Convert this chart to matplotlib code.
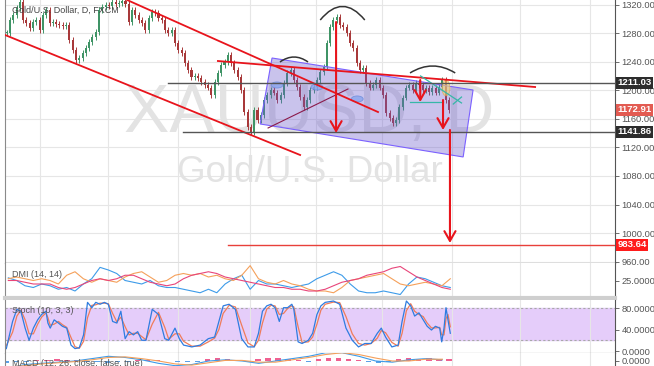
import numpy as np
import matplotlib.pyplot as plt
from matplotlib.patches import Polygon, Ellipse, PathPatch
from matplotlib.path import Path
from matplotlib.transforms import blended_transform_factory

plt.rcParams['font.family'] = ['Liberation Sans', 'DejaVu Sans']

# daily closes (candle index 0..134)
closes = [1281, 1299, 1306, 1316, 1324, 1299, 1295, 1288, 1296, 1299,
          1285, 1306, 1313, 1295, 1296, 1293, 1292, 1290, 1292, 1271,
          1257, 1243, 1246, 1253, 1260, 1268, 1275, 1282, 1313, 1317,
          1320, 1318, 1324, 1321, 1323, 1326, 1321, 1296, 1313, 1306,
          1299, 1295, 1285, 1302, 1310, 1309, 1302, 1299, 1285, 1281,
          1285, 1267, 1257, 1253, 1239, 1229, 1219, 1220, 1218, 1212,
          1208, 1204, 1194, 1212, 1225, 1236, 1240, 1250, 1239, 1229,
          1219, 1201, 1170, 1149, 1142, 1173, 1159, 1166, 1187, 1194,
          1201, 1197, 1187, 1194, 1211, 1225, 1229, 1215, 1205, 1191,
          1177, 1187, 1201, 1205, 1215, 1226, 1233, 1267, 1289, 1299,
          1303, 1292, 1289, 1281, 1267, 1260, 1239, 1229, 1232, 1211,
          1204, 1208, 1215, 1204, 1194, 1168, 1161, 1154, 1159, 1177,
          1190, 1204, 1208, 1201, 1211, 1208, 1201, 1204, 1198, 1204,
          1197, 1205, 1215, 1187, 1173]

vgrid = [10.1, 30.7, 51.9, 73.7, 93.7, 113.7, 135.0, 155.6, 176.8]
price_ticks = [960, 1000, 1040, 1080, 1120, 1160, 1200, 1240, 1280, 1320]

# DMI (14, 14)
dmi_plus = [28, 25, 19, 17, 21, 19, 15, 17, 13, 21, 27, 40, 37, 33, 25, 23, 21, 25,
            19, 17, 17, 15, 13, 11, 15, 11, 21, 27, 31, 15, 25, 21, 21, 19, 17, 19,
            21, 27, 31, 35, 31, 21, 13, 11, 11, 13, 11, 9, 21, 29, 27, 23, 19, 17]
dmi_minus = [27, 29, 27, 25, 27, 25, 21, 31, 35, 27, 23, 27, 25, 23, 29, 33, 35, 29,
             23, 25, 31, 33, 31, 33, 29, 31, 27, 25, 31, 42, 27, 23, 21, 25, 21, 19,
             15, 13, 13, 11, 17, 25, 27, 29, 31, 33, 27, 21, 19, 21, 23, 21, 19, 27]
adx = [25, 25, 23, 21, 21, 21, 17, 15, 17, 21, 25, 27, 25, 27, 31, 31, 27, 23,
       21, 19, 21, 27, 31, 33, 35, 33, 29, 27, 25, 23, 21, 19, 17, 17, 15, 15,
       13, 13, 15, 19, 23, 25, 27, 31, 33, 35, 39, 41, 35, 29, 25, 21, 17, 15]

# Stoch (10, 3, 3)
stoch_days = [-0.1, 1.8, 3.1, 4.3, 5.6, 6.8, 8.1, 9.4, 10.6, 11.9,
              12.5, 13.2, 14.4, 15.7, 16.9, 18.2, 19.5, 20.7, 22.0, 23.3,
              24.5, 25.8, 27.0, 28.3, 29.6, 30.8, 32.1, 33.4, 34.6, 35.9,
              37.1, 38.4, 39.7, 40.9, 42.2, 44.1, 46.0, 47.9, 49.1, 51.0,
              52.3, 53.6, 56.1, 58.6, 61.1, 63.0, 64.3, 65.6, 67.4, 69.3,
              71.2, 73.1, 75.0, 76.3, 77.5, 78.8, 80.1, 81.3, 82.6, 83.9,
              85.1, 86.4, 87.0, 88.3, 89.5, 91.4, 92.7, 94.0, 95.2, 96.5,
              99.0, 100.9, 102.8, 104.7, 106.6, 108.5, 110.4, 112.3, 113.5, 114.8,
              116.7, 118.6, 119.8, 121.1, 122.4, 123.6, 124.9, 126.2, 127.4, 128.7,
              129.9, 131.2, 131.8, 132.5, 133.1, 133.7, 134.4]
stoch_k = [4.5, 55, 77.5, 74, 42.6, 20, 42.6, 58, 68, 74,
           52, 42.6, 58, 52, 46, 42.6, 11, 4.5, 6, 30,
           90.5, 80.6, 90.5, 87, 90.5, 87, 55, 52, 74, 23,
           36, 30, 36, 20, 20, 77.5, 68, 23, 20, 42.6,
           23, 11, 7.6, 11, 23, 26, 55, 84, 87, 77.5,
           23, 7.6, 7.6, 33, 74, 84, 87, 80.6, 55, 80.6,
           80.6, 87, 77.5, 17, 14, 20, 33, 68, 84, 90.5,
           93, 87, 42.6, 20, 7.6, 14, 14, 33, 42.6, 26,
           7.6, 11, 55, 93, 84, 65, 71, 58, 46, 39,
           46, 42.6, 17, 42.6, 80.6, 58, 33]
stoch_d = [10, 35, 65, 76, 58, 32, 32, 50, 63, 71,
           62, 48, 50, 55, 49, 44, 25, 8, 5, 18,
           62, 85, 86, 89, 89, 88, 70, 54, 63, 45,
           30, 33, 33, 27, 21, 50, 72, 44, 22, 32,
           32, 18, 9, 9, 17, 24, 40, 70, 85, 82,
           48, 15, 8, 20, 52, 78, 85, 84, 68, 70,
           79, 84, 82, 45, 16, 17, 26, 50, 76, 87,
           91, 90, 64, 32, 14, 11, 14, 24, 38, 34,
           16, 9, 33, 75, 88, 74, 68, 64, 52, 43,
           43, 44, 30, 30, 60, 68, 45]

# MACD (12, 26, close, false, true)
macd_line = [-6, -3, -2, -1, 0, 2, 4, 3, 1, -2, -4, -3, 0, 1, 0, -2, 0, 2, 4, 7, 7, 4, 0, -1, 1, 2, 1]
macd_signal = [-5, -4, -2.5, -1.5, -0.5, 1, 3, 3.5, 2, 0, -2.5, -3.5, -1.5, 0.5, 0.5, -1, -1, 1, 3, 5.5,
               7, 5.5, 2.5, 0, 0, 1.5, 1.5]
macd_hist = [-2, -1, -1, 0.5, 1, 1.5, 1, 0.5, -0.5, -1,
             -1.5, -1, -0.5, 0.5, 1, 0.8, 0.3, -0.5, -1, -0.5,
             1.5, 2.5, 2, 0.5, -0.5, 1.5, 2.5, 2.5, 2,
             0.5, -0.5, 1.5, 2.5, 2.5, 2, 0.5, -1, -1.5, -0.5,
             1.5, 2.5, 2, 2.5, 2, 1.5]

# chart drawings, in (candle index, price)
channel_lo = [(-0.5, 1277.9), (88.9, 1109.5)]
channel_hi = [(36.5, 1327.0), (112.5, 1169.8)]
neckline = [(64.0, 1241.4), (160.1, 1204.9)]
rising_line = [(79.2, 1147.4), (103.4, 1202.1)]
box = [(80.4, 1245.6), (141.3, 1200.7), (138.3, 1106.7), (76.8, 1153.0)]
circles = [(81.9, 1207.7), (94.0, 1204.9), (106.2, 1188.1)]
humps = [(82.8, 91.3, 1240.0, 1247.0), (95.0, 108.5, 1298.9, 1318.0), (122.2, 135.9, 1224.6, 1234.4)]
arrows = [(99.8, 1296.1, 1140.4), (125.3, 1214.7, 1183.9), (132.2, 1186.7, 1144.6), (134.3, 1144.6, 986.0)]
levels = [(1211.03, 48.9, '#555555', '#2d2d2d'), (1141.86, 53.4, '#555555', '#2d2d2d'),
          (983.64, 67.1, '#e8403a', '#ff1c1c')]
last_price = 1172.91
teal_lines = [[(122.2, 1183.9), (132.2, 1183.9)], [(125.4, 1220.4), (137.8, 1182.5)],
              [(135.3, 1181.0), (137.8, 1190.8)]]

W, H = 654, 366


def px_rect(x0, y0, x1, y1):
    return [x0 / W, 1 - y1 / H, (x1 - x0) / W, (y1 - y0) / H]


fig = plt.figure(figsize=(W / 100, H / 100), dpi=100)
fig.patch.set_facecolor('white')
ax = fig.add_axes(px_rect(5, 0, 615, 263))
ax_dmi = fig.add_axes(px_rect(5, 263, 615, 298), sharex=ax)
ax_st = fig.add_axes(px_rect(5, 300, 615, 353), sharex=ax)
ax_macd = fig.add_axes(px_rect(5, 353, 615, 400), sharex=ax)

lab = dict(labelsize=6.7, colors='#555555', length=3, pad=1.5, width=0.6)
for a in (ax, ax_dmi, ax_st, ax_macd):
    a.set_facecolor('white')
    a.yaxis.tick_right()
    a.tick_params(axis='y', **lab)
    a.tick_params(axis='x', length=0, labelbottom=False)
    a.set_xticks(vgrid)
    a.grid(axis='x', color='#e6e6e6', lw=0.8)
    a.set_axisbelow(True)
    a.spines['top'].set_visible(False)
    a.spines['left'].set_color('#8a8a8a')
    a.spines['right'].set_color('#555555')
    a.spines['bottom'].set_color('#555555')
ax.set_xlim(-0.5, 184.3)

# ---- price panel ----
x = np.arange(len(closes))
c = np.array(closes, dtype=float)
o = np.r_[c[0], c[:-1]]
up = c >= o
col = np.where(up, '#3f9466', '#a8393a')
ax.vlines(x, np.minimum(o, c) - 4, np.maximum(o, c) + 4, colors=col, lw=0.7, zorder=3)
ax.bar(x, np.maximum(np.abs(c - o), 0.8), bottom=np.minimum(o, c), width=0.62, color=col, zorder=3)

ax.set_ylim(957.9, 1327.0)
ax.set_yticks(price_ticks)
ax.set_yticklabels([f'{p:.2f}' for p in price_ticks])
ax.grid(axis='y', color='#e6e6e6', lw=0.8)

ax.text(91.6, 1141.8, 'XAUUSD, D', ha='center', va='baseline', fontsize=49,
        color='#e3e3e3', zorder=1)
ax.text(91.9, 1071.6, 'Gold/U.S. Dollar', ha='center', va='baseline', fontsize=26.5,
        color='#e3e3e3', zorder=1)

ax.add_patch(Polygon(box, closed=True, fc='#6a5acd', alpha=0.36, ec='none', zorder=4))
ax.add_patch(Polygon(box, closed=True, fc='none', ec='#7b61ff', lw=0.8, zorder=4))
for cx, cy in circles:
    ax.add_patch(Ellipse((cx, cy), 3.6, 8.5, fc='#8aa6ee', ec='#6b8ad8', lw=0.6, alpha=0.8, zorder=4.5))
ax.add_patch(Ellipse((133.1, 1203.5), 2.4, 22, fc='#f5d76e', ec='#e0a030', lw=0.6, alpha=0.6, zorder=4.5))

for seg in (channel_lo, channel_hi, neckline):
    (x0, y0), (x1, y1) = seg
    ax.plot([x0, x1], [y0, y1], color='#e8141c', lw=1.3, zorder=5)
ax.plot(*zip(*rising_line), color='#8b1a4a', lw=0.8, zorder=5)
for seg in teal_lines:
    ax.plot(*zip(*seg), color='#36b7a8', lw=0.9, zorder=5)

trans = blended_transform_factory(ax.transAxes, ax.transData)
for price, x0, lc, bc in levels:
    ax.plot([x0, 184.3], [price, price], color=lc, lw=1.0, zorder=5)
    ax.text(1.004, price, f'{price:.2f}', transform=trans, ha='left', va='center', fontsize=6.8,
            color='white', weight='bold', clip_on=False, zorder=10,
            bbox=dict(fc=bc, ec='none', pad=1.1))
ax.text(1.004, last_price, f'{last_price:.2f}', transform=trans, ha='left', va='center', fontsize=6.8,
        color='white', weight='bold', clip_on=False, zorder=10, bbox=dict(fc='#e35b52', ec='none', pad=1.1))

for x0, x1, y_end, y_top in humps:
    ctrl = ((x0 + x1) / 2, 2 * y_top - y_end)
    path = Path([(x0, y_end), ctrl, (x1, y_end)], [Path.MOVETO, Path.CURVE3, Path.CURVE3])
    ax.add_patch(PathPatch(path, fc='none', ec='#333333', lw=1.1, zorder=6))

for xa, y_from, y_to in arrows:
    ax.annotate('', xy=(xa, y_to), xytext=(xa, y_from),
                arrowprops=dict(arrowstyle='->,head_length=0.7,head_width=0.4', color='#e8141c',
                                lw=1.5, shrinkA=0, shrinkB=0), zorder=7)

fig.text(12 / W, 1 - 12.5 / H, 'Gold/U.S. Dollar, D, FXCM', fontsize=6.5, color='#444444',
         va='baseline')

# ---- DMI panel ----
dmi_x = np.linspace(0.5, 134.4, len(dmi_plus))
ax_dmi.plot(dmi_x, dmi_plus, color='#3d9be9', lw=0.8)
ax_dmi.plot(dmi_x, dmi_minus, color='#f5a05a', lw=0.8)
ax_dmi.plot(dmi_x, adx, color='#e8457a', lw=0.8)
ax_dmi.set_ylim(5, 45)
ax_dmi.set_yticks([25])
ax_dmi.set_yticklabels(['25.0000'])
ax_dmi.spines['bottom'].set_color('#cfcfcf')
ax_dmi.spines['bottom'].set_linewidth(3)
fig.text(12 / W, 1 - 277 / H, 'DMI (14, 14)', fontsize=6.5, color='#555555', va='baseline')

# ---- Stoch panel ----
ax_st.axhspan(20, 80, color='#e5cdfa', zorder=0.3)
for lvl in (20, 80):
    ax_st.axhline(lvl, color='#a8a8a8', lw=0.8, ls=(0, (2, 2)), zorder=0.4)
ax_st.plot(stoch_days, stoch_d, color='#f07c5a', lw=0.9)
ax_st.plot(stoch_days, stoch_k, color='#2f7ce0', lw=0.9)
ax_st.set_ylim(-3.7, 94.9)
ax_st.set_yticks([0, 40, 80])
ax_st.set_yticklabels(['0.0000', '40.0000', '80.0000'])
fig.text(12 / W, 1 - 313 / H, 'Stoch (10, 3, 3)', fontsize=6.5, color='#555555', va='baseline')

# ---- MACD panel ----
hist_x = np.linspace(0, 134, len(macd_hist))
ax_macd.bar(hist_x, macd_hist, width=1.6, color=np.where(np.array(macd_hist) > 0, '#f06090', '#5aa0e8'))
macd_x = np.linspace(0.5, 132, len(macd_line))
ax_macd.plot(macd_x, macd_line, color='#3d9be9', lw=0.8)
ax_macd.plot(macd_x, macd_signal, color='#f5a05a', lw=0.8)
ax_macd.set_ylim(-33.2, 6.8)
ax_macd.set_yticks([0])
ax_macd.set_yticklabels(['0.0000'])
fig.text(12 / W, 1 - 365.5 / H, 'MACD (12, 26, close, false, true)', fontsize=6.5, color='#555555',
         va='baseline')

fig.savefig('out.png', dpi=100, facecolor='white')
